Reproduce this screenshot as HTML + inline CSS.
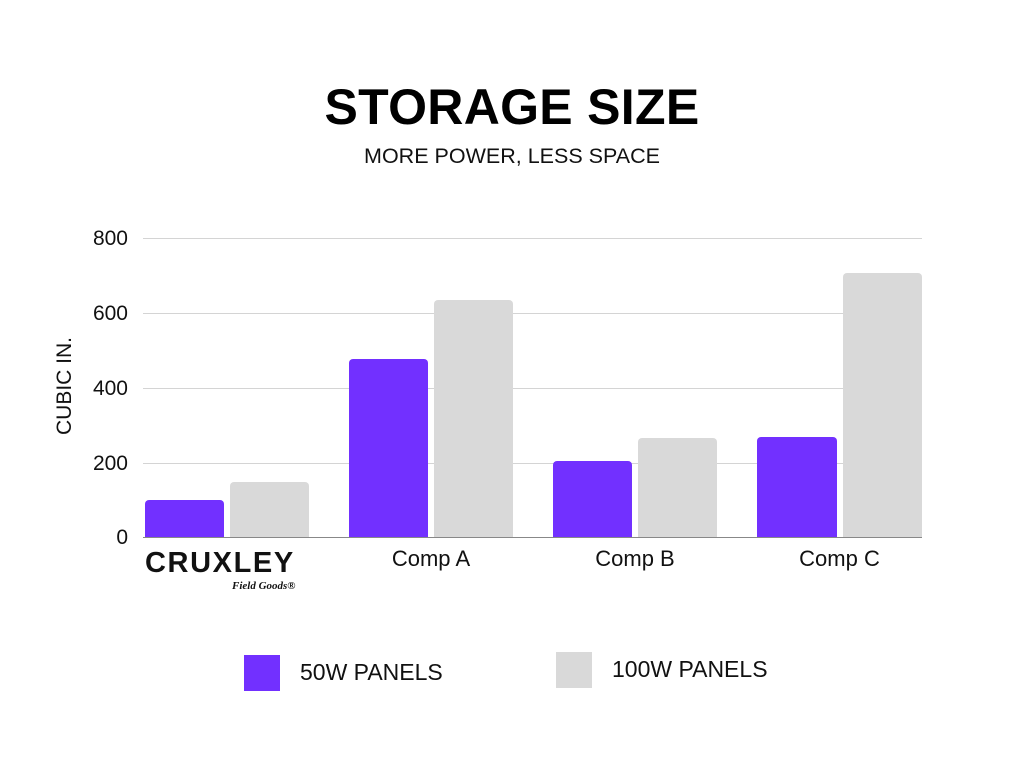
<!DOCTYPE html>
<html><head><style>
body{margin:0;width:1024px;height:768px;background:#fff;font-family:"Liberation Sans",sans-serif;position:relative;overflow:hidden}
.a{position:absolute}
.g{position:absolute;left:143px;width:779px;height:1px;background:#d4d4d4}
.b{position:absolute;border-radius:4px 4px 0 0}
.p{background:#7230ff}.l{background:#d9d9d9}
.t{position:absolute;font-size:21px;color:#111}
</style></head><body>
<div class="a" style="left:0;width:1024px;top:78px;text-align:center;font-size:50px;font-weight:bold;color:#000;letter-spacing:0.3px">STORAGE SIZE</div>
<div class="a" style="left:0;width:1024px;top:144px;text-align:center;font-size:21.5px;color:#111">MORE POWER, LESS SPACE</div>
<div class="g" style="top:238px"></div><div class="g" style="top:313px"></div><div class="g" style="top:388px"></div><div class="g" style="top:463px"></div>
<div class="t" style="left:60px;width:68px;text-align:right;top:227px">800</div>
<div class="t" style="left:60px;width:68px;text-align:right;top:302px">600</div>
<div class="t" style="left:60px;width:68px;text-align:right;top:377px">400</div>
<div class="t" style="left:60px;width:68px;text-align:right;top:452px">200</div>
<div class="t" style="left:60px;width:68px;text-align:right;top:526px">0</div>
<div class="t" style="left:0px;width:130px;text-align:center;transform:rotate(-90deg);transform-origin:center;top:374px">CUBIC IN.</div>
<div class="b p" style="left:145px;width:79px;top:500px;height:37px"></div>
<div class="b l" style="left:230px;width:79px;top:482px;height:55px"></div>
<div class="b p" style="left:349px;width:79px;top:359px;height:178px"></div>
<div class="b l" style="left:434px;width:79px;top:300px;height:237px"></div>
<div class="b p" style="left:553px;width:79px;top:461px;height:76px"></div>
<div class="b l" style="left:638px;width:79px;top:438px;height:99px"></div>
<div class="b p" style="left:757px;width:80px;top:437px;height:100px"></div>
<div class="b l" style="left:843px;width:79px;top:273px;height:264px"></div>
<div class="a" style="left:143px;width:779px;top:537px;height:1px;background:#888"></div>
<div class="t" style="left:349px;width:164px;text-align:center;top:546px;font-size:22px">Comp A</div>
<div class="t" style="left:553px;width:164px;text-align:center;top:546px;font-size:22px">Comp B</div>
<div class="t" style="left:757px;width:165px;text-align:center;top:546px;font-size:22px">Comp C</div>
<div class="a" style="left:145px;top:547px;font-size:29px;font-weight:bold;color:#111;letter-spacing:1.6px">CRUXLEY</div>
<div class="a" style="left:232px;top:580px;font-size:11px;font-style:italic;font-family:'Liberation Serif',serif;font-weight:bold;color:#111">Field Goods®</div>
<div class="a p" style="left:244px;top:655px;width:36px;height:36px"></div>
<div class="a" style="left:300px;top:659px;font-size:23px;color:#111">50W PANELS</div>
<div class="a l" style="left:556px;top:652px;width:36px;height:36px"></div>
<div class="a" style="left:612px;top:656px;font-size:23px;color:#111">100W PANELS</div>
</body></html>
